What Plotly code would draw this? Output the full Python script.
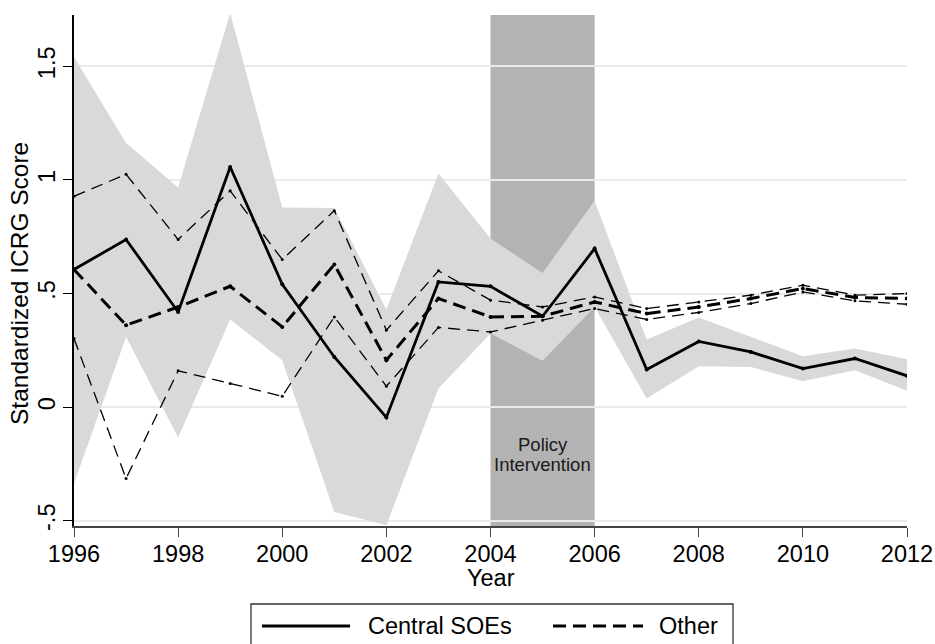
import plotly.graph_objects as go

# ICRG scores by year: Central SOEs (mean with confidence band) vs. Other
years = list(range(1996, 2013))

central = [0.606, 0.738, 0.419, 1.057, 0.541, 0.221, -0.045, 0.551, 0.532,
           0.400, 0.698, 0.166, 0.289, 0.243, 0.170, 0.214, 0.138]
central_hi = [1.541, 1.163, 0.967, 1.735, 0.879, 0.877, 0.430, 1.028, 0.742,
              0.591, 0.908, 0.298, 0.395, 0.309, 0.224, 0.258, 0.211]
central_lo = [-0.336, 0.309, -0.134, 0.386, 0.207, -0.461, -0.520, 0.082, 0.324,
              0.204, 0.441, 0.038, 0.180, 0.177, 0.114, 0.163, 0.072]

other = [0.606, 0.361, 0.441, 0.532, 0.353, 0.628, 0.207, 0.478, 0.397,
         0.400, 0.463, 0.412, 0.441, 0.478, 0.522, 0.483, 0.478]
other_hi = [0.928, 1.025, 0.738, 0.952, 0.650, 0.865, 0.339, 0.600, 0.471,
            0.441, 0.485, 0.434, 0.463, 0.493, 0.537, 0.493, 0.500]
other_lo = [0.302, -0.314, 0.160, 0.104, 0.048, 0.397, 0.092, 0.351, 0.331,
            0.383, 0.434, 0.386, 0.417, 0.456, 0.507, 0.468, 0.453]

policy_start, policy_end = 2004, 2006
x_ticks = list(range(1996, 2013, 2))
y_ticks = [-0.5, 0, 0.5, 1, 1.5]
y_tick_text = ["-.5", "0", ".5", "1", "1.5"]

FONT = "Liberation Sans, Arial, Helvetica, sans-serif"
BAND = "#d9d9d9"
POLICY = "#b3b3b3"
FS = 23.5

fig = go.Figure()

# confidence band for Central SOEs
fig.add_trace(go.Scatter(x=years, y=central_hi, mode="lines",
                         line=dict(width=0, color=BAND), hoverinfo="skip",
                         showlegend=False))
fig.add_trace(go.Scatter(x=years, y=central_lo, mode="lines", fill="tonexty",
                         fillcolor=BAND, line=dict(width=0, color=BAND),
                         hoverinfo="skip", showlegend=False))

# bounds for Other
for vals in (other_hi, other_lo):
    fig.add_trace(go.Scatter(x=years, y=vals, mode="lines+markers",
                             line=dict(color="black", width=1.3, dash="12px,7px"),
                             marker=dict(size=3, color="black"),
                             showlegend=False))

fig.add_trace(go.Scatter(x=years, y=other, mode="lines+markers", name="Other",
                         line=dict(color="black", width=3, dash="13px,7px"),
                         marker=dict(size=4, color="black"), showlegend=False))
fig.add_trace(go.Scatter(x=years, y=central, mode="lines+markers",
                         name="Central SOEs",
                         line=dict(color="black", width=2.8),
                         marker=dict(size=4, color="black"), showlegend=False))

# policy window shading
fig.add_shape(type="rect", xref="x", yref="paper", x0=policy_start,
              x1=policy_end, y0=0, y1=1, fillcolor=POLICY,
              line=dict(width=0), layer="between")

W, H = 935, 644
L, R, T, B = 74, 28, 15, 118
pw, ph = W - L - R, H - T - B


def px(xp):
    return (xp - L) / pw


def py(yp):
    return (H - B - yp) / ph


mid = (policy_start + policy_end) / 2
for txt, yp in (("Policy", 444), ("Intervention", 464)):
    fig.add_annotation(x=mid, y=py(yp), xref="x", yref="paper", text=txt,
                       showarrow=False, font=dict(size=18.5, color="#1a1a1a",
                                                  family=FONT),
                       xanchor="center", yanchor="middle")

# axis titles
fig.add_annotation(x=0.5, y=py(578), xref="paper", yref="paper", text="Year",
                   showarrow=False, xanchor="center", yanchor="middle",
                   font=dict(size=FS, color="black", family=FONT))
fig.add_annotation(x=px(19), y=py(284), xref="paper", yref="paper",
                   text="Standardized ICRG Score", textangle=-90,
                   showarrow=False, xanchor="center", yanchor="middle",
                   font=dict(size=24.5, color="black", family=FONT))

# legend drawn in paper space below the plot
fig.add_shape(type="rect", xref="paper", yref="paper", x0=px(251), x1=px(733),
              y0=py(660), y1=py(604), line=dict(color="#333333", width=1.3),
              fillcolor="white", layer="above")
fig.add_shape(type="line", xref="paper", yref="paper", x0=px(262), x1=px(350),
              y0=py(626), y1=py(626), line=dict(color="black", width=3),
              layer="above")
fig.add_shape(type="line", xref="paper", yref="paper", x0=px(553), x1=px(643),
              y0=py(626), y1=py(626),
              line=dict(color="black", width=3, dash="13px,7px"),
              layer="above")
for txt, xp in (("Central SOEs", 366), ("Other", 657)):
    fig.add_annotation(x=px(xp), y=py(626), xref="paper", yref="paper",
                       text=txt, showarrow=False, xanchor="left",
                       yanchor="middle",
                       font=dict(size=FS, color="black", family=FONT))

fig.update_layout(
    width=W, height=H,
    margin=dict(l=L, r=R, t=T, b=B, autoexpand=False),
    paper_bgcolor="white", plot_bgcolor="white",
    font=dict(family=FONT, size=FS, color="black"),
    showlegend=False,
    xaxis=dict(range=[1996, 2012], tickvals=x_ticks, ticks="outside",
               ticklen=9, tickcolor="#444444", tickwidth=1.3,
               showline=True, linecolor="#444444", linewidth=2,
               showgrid=False, zeroline=False, automargin=False,
               ticklabelstandoff=-3, tickfont=dict(size=FS)),
    yaxis=dict(range=[-0.523, 1.726], tickvals=y_ticks, ticktext=y_tick_text,
               tickangle=-90, ticks="outside", ticklen=9, tickcolor="black",
               tickwidth=1.3, showline=True, linecolor="black", linewidth=1.5,
               showgrid=True, gridcolor="#eaeaea", gridwidth=1.5,
               zeroline=False, automargin=False, ticklabelstandoff=-1,
               tickfont=dict(size=FS)),
)

fig.write_html("out.html")
